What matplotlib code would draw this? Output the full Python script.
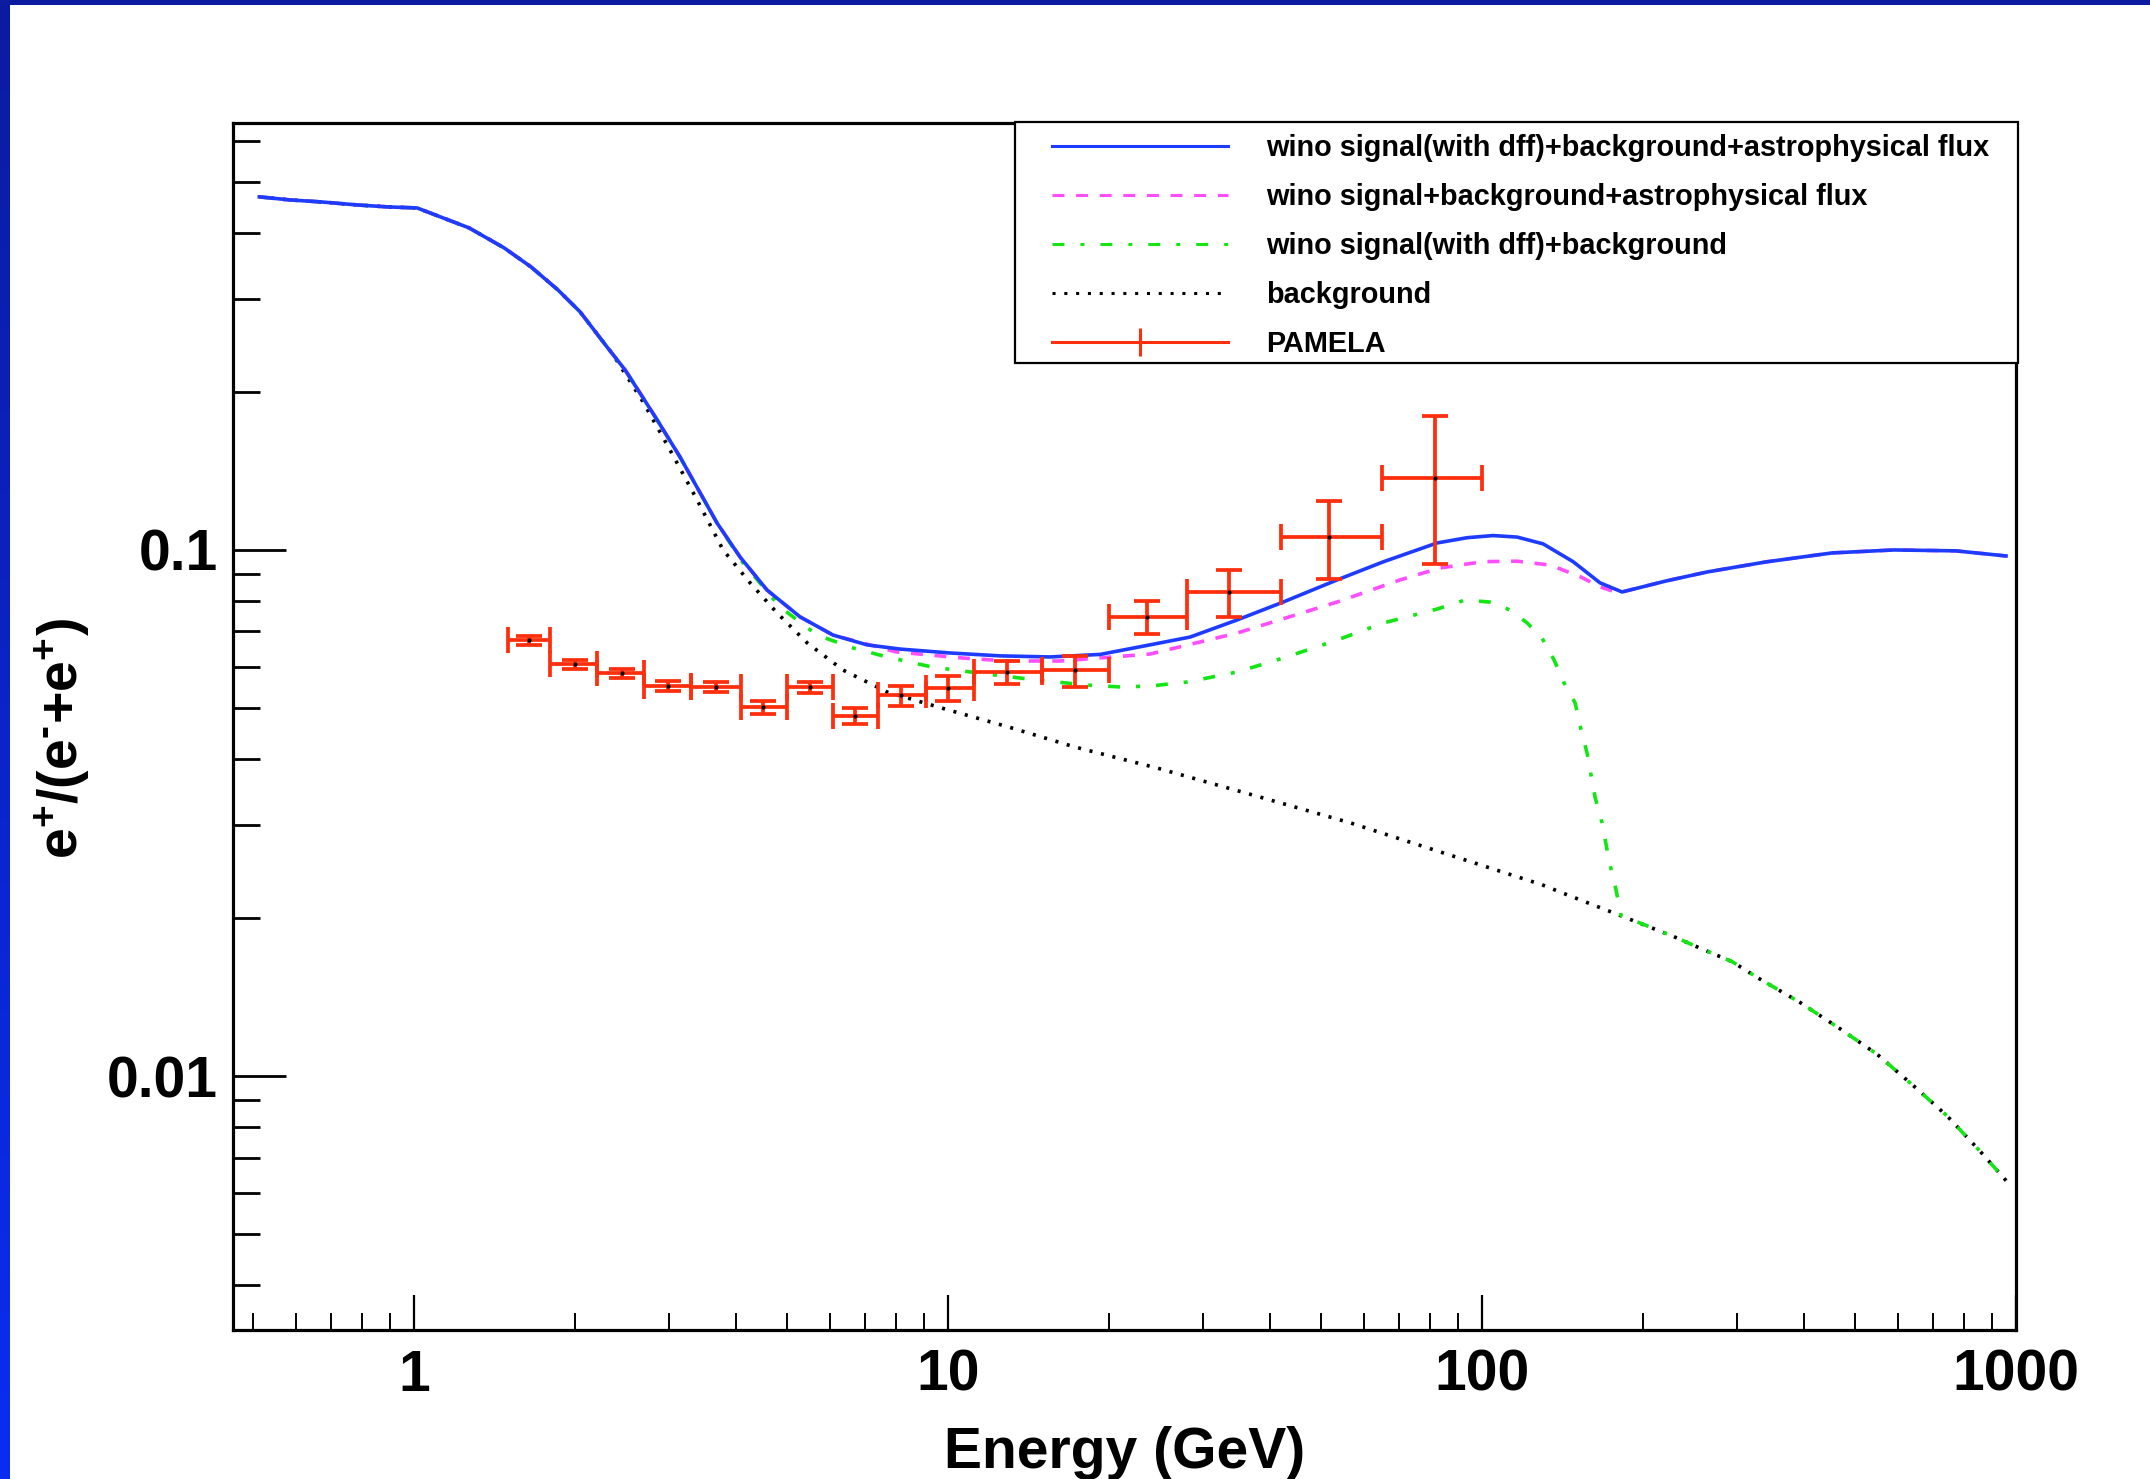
import matplotlib
matplotlib.use("Agg")
from matplotlib import pyplot as plt
from matplotlib.lines import Line2D
from matplotlib.patches import Rectangle
from matplotlib.ticker import FixedLocator, LogLocator, NullFormatter
import numpy as np

plt.rcParams['font.family'] = ['Liberation Sans', 'DejaVu Sans']
plt.rcParams['font.weight'] = 'bold'
plt.rcParams['mathtext.fontset'] = 'custom'
plt.rcParams['mathtext.rm'] = 'Liberation Sans:bold'
plt.rcParams['mathtext.bf'] = 'Liberation Sans:bold'
plt.rcParams['mathtext.it'] = 'Liberation Sans:bold'
plt.rcParams['mathtext.default'] = 'bf'
plt.rcParams['lines.scale_dashes'] = False

# total: wino signal(with dff) + background + astrophysical flux
E_tot = [0.513, 0.586, 0.670, 0.782, 0.894, 1.013, 1.267, 1.474, 1.656, 1.860,
         2.046, 2.298, 2.484, 2.685, 2.852, 3.148, 3.433, 3.693, 4.077, 4.581,
         5.283, 6.089, 7.052, 8.131, 10.09, 12.51, 15.52, 19.27, 23.88, 28.40,
         34.77, 42.41, 53.51, 65.26, 82.36, 93.74, 104.9, 116.3, 130.1, 148.1,
         166.3, 182.9, 221.1, 263.8, 340.3, 452.3, 590.8, 772.0, 957.9]
R_tot = [0.4690, 0.4627, 0.4587, 0.4527, 0.4488, 0.4468, 0.4095, 0.3752, 0.3451, 0.3120,
         0.2835, 0.2431, 0.2199, 0.1945, 0.1767, 0.1502, 0.1284, 0.1125, 0.0970, 0.0839,
         0.0746, 0.0689, 0.0660, 0.0648, 0.0637, 0.0629, 0.0626, 0.0633, 0.0660, 0.0683,
         0.0736, 0.0796, 0.0877, 0.0949, 0.1031, 0.1055, 0.1065, 0.1058, 0.1027, 0.0950,
         0.0866, 0.0832, 0.0873, 0.0908, 0.0949, 0.0987, 0.1000, 0.0996, 0.0974]

# wino signal (no dff) + background + astrophysical flux
E_nodff = [0.513, 0.586, 0.670, 0.782, 0.894, 1.013, 1.267, 1.474, 1.656, 1.860,
           2.046, 2.298, 2.484, 2.685, 2.852, 3.148, 3.433, 3.693, 4.077, 4.581,
           5.283, 6.089, 6.61, 7.99, 10.67, 12.95, 16.21, 23.88, 34.77, 53.51,
           70.22, 83.43, 100.4, 116.3, 134.1, 152.6, 166.3, 175.2, 182.9, 221.1,
           263.8, 340.3, 452.3, 590.8, 772.0, 957.9]
R_nodff = [0.4690, 0.4627, 0.4587, 0.4527, 0.4488, 0.4468, 0.4095, 0.3752, 0.3451, 0.3120,
           0.2835, 0.2431, 0.2199, 0.1945, 0.1767, 0.1502, 0.1284, 0.1125, 0.0970, 0.0839,
           0.0746, 0.0689, 0.0674, 0.0640, 0.0623, 0.0615, 0.0615, 0.0634, 0.0695, 0.0796,
           0.0877, 0.0924, 0.0950, 0.0952, 0.0936, 0.0890, 0.0851, 0.0836, 0.0832, 0.0873,
           0.0908, 0.0949, 0.0987, 0.1000, 0.0996, 0.0974]

# wino signal (with dff) + background
E_sig = [0.513, 0.586, 0.670, 0.782, 0.894, 1.013, 1.267, 1.474, 1.656, 1.860,
         2.046, 2.298, 2.484, 2.685, 2.852, 3.148, 3.433, 3.693, 4.131, 4.846,
         5.685, 6.640, 7.688, 9.334, 11.33, 14.00, 17.97, 20.99, 23.88, 28.03,
         34.77, 42.41, 53.51, 65.26, 82.36, 92.93, 103.5, 112.8, 121.4, 129.5,
         136.4, 142.4, 149.4, 153.3, 157.3, 162.8, 167.8, 172.9, 178.2, 182.1,
         228.8, 256.0, 293.9, 327.3, 394.0, 468.1, 549.3, 641.4, 742.7, 856.0, 961.8]
R_sig = [0.4690, 0.4627, 0.4587, 0.4527, 0.4488, 0.4468, 0.4095, 0.3752, 0.3451, 0.3120,
         0.2835, 0.2431, 0.2199, 0.1945, 0.1767, 0.1502, 0.1284, 0.1125, 0.0945, 0.0779,
         0.0689, 0.0651, 0.0626, 0.0599, 0.0584, 0.0569, 0.0554, 0.0549, 0.0551, 0.0561,
         0.0586, 0.0623, 0.0674, 0.0726, 0.0772, 0.0803, 0.0796, 0.0769, 0.0727, 0.0680,
         0.0618, 0.0559, 0.0512, 0.0455, 0.0411, 0.0339, 0.0303, 0.0257, 0.0226, 0.0202,
         0.0184, 0.0175, 0.0165, 0.0154, 0.0138, 0.0123, 0.0110, 0.0096, 0.0084, 0.0072, 0.0063]

# background only
E_bkg = [0.513, 0.586, 0.670, 0.782, 0.894, 1.013, 1.267, 1.474, 1.656, 1.860,
         2.046, 2.359, 2.685, 3.015, 3.388, 3.790, 4.258, 4.784, 5.445, 6.361,
         7.688, 9.70, 12.95, 17.29, 24.63, 38.40, 56.58, 87.12, 110.9, 129.5,
         141.2, 181.3, 228.8, 256.0, 293.9, 327.3, 394.0, 468.1, 549.3, 641.4,
         742.7, 856.0, 961.8]
R_bkg = [0.4690, 0.4627, 0.4587, 0.4527, 0.4488, 0.4468, 0.4095, 0.3752, 0.3451, 0.3120,
         0.2835, 0.2350, 0.1911, 0.1549, 0.1245, 0.1000, 0.0866, 0.0759, 0.0666, 0.0591,
         0.0537, 0.0501, 0.0461, 0.0422, 0.0385, 0.0339, 0.0303, 0.0263, 0.0243, 0.0231,
         0.0223, 0.0202, 0.0184, 0.0175, 0.0165, 0.0154, 0.0138, 0.0123, 0.0110, 0.0096,
         0.0084, 0.0072, 0.0063]

# PAMELA positron fraction
pam_E = [1.64, 2.0, 2.45, 2.99, 3.68, 4.5, 5.51, 6.69, 8.16, 10.0, 12.9, 17.3, 23.6, 33.6, 51.6, 81.6]
pam_lo = [1.5, 1.8, 2.2, 2.7, 3.3, 4.1, 5.0, 6.1, 7.4, 9.1, 11.2, 15.0, 20.0, 28.0, 42.0, 65.0]
pam_hi = [1.8, 2.2, 2.7, 3.3, 4.1, 5.0, 6.1, 7.4, 9.1, 11.2, 15.0, 20.0, 28.0, 42.0, 65.0, 100.0]
pam_R = [0.0673, 0.0607, 0.0583, 0.0551, 0.0550, 0.0502, 0.0548, 0.0483, 0.0529, 0.0546,
         0.0585, 0.0590, 0.0746, 0.0831, 0.106, 0.137]
pam_err = [0.0014, 0.0012, 0.0011, 0.0012, 0.0012, 0.0014, 0.0014, 0.0017, 0.0023, 0.0029,
           0.0030, 0.0040, 0.0055, 0.0086, 0.018, 0.043]

labels = ["wino signal(with dff)+background+astrophysical flux",
          "wino signal+background+astrophysical flux",
          "wino signal(with dff)+background",
          "background",
          "PAMELA"]

c_blue = '#1e3cff'
c_mag = '#ff4dff'
c_green = '#14e614'
c_red = '#ff2e0c'

W, H = 2150, 1479
fig = plt.figure(figsize=(W / 100, H / 100), dpi=100)
fig.patch.set_facecolor('white')

# slide frame: dark strip on top, gradient strip on the left
fig.patches.append(Rectangle((0, 1 - 5 / H), 1, 5 / H, transform=fig.transFigure,
                             facecolor='#0c1ba0', edgecolor='none', zorder=0))
axb = fig.add_axes([0, 0, 10 / W, 1])
grad = np.linspace(0, 1, 256).reshape(-1, 1)
top_c = np.array([0x0c, 0x1b, 0xa0]) / 255
bot_c = np.array([0x0a, 0x2d, 0xf2]) / 255
img = top_c[None, None, :] * (1 - grad[:, :, None]) + bot_c[None, None, :] * grad[:, :, None]
axb.imshow(img, aspect='auto', extent=[0, 1, 0, 1])
axb.set_axis_off()

ax = fig.add_axes([233 / W, 1 - 1330 / H, (2016 - 233) / W, (1330 - 123) / H])

l_bkg, = ax.plot(E_bkg, R_bkg, color='black', lw=2.6, dashes=(2.2, 6.3), zorder=2)
l_sig, = ax.plot(E_sig, R_sig, color=c_green, lw=2.6, dashes=(8.6, 11.5, 2.9, 11.5), zorder=3)
l_nodff, = ax.plot(E_nodff, R_nodff, color=c_mag, lw=2.6, dashes=(8.6, 8.4), zorder=4)
l_tot, = ax.plot(E_tot, R_tot, color=c_blue, lw=2.6, zorder=5)

pam_E = np.array(pam_E)
xerr = [pam_E - np.array(pam_lo), np.array(pam_hi) - pam_E]
ax.errorbar(pam_E, pam_R, xerr=xerr, yerr=pam_err, fmt='o', color='black', ms=2,
            ecolor=c_red, elinewidth=2.7, capsize=9.5, capthick=2.7, zorder=6)

ax.set_xscale('log')
ax.set_yscale('log')
ax.set_xlim(0.458, 1000)
ax.set_ylim(0.00329, 0.648)

ax.xaxis.set_major_locator(FixedLocator([1, 10, 100, 1000]))
ax.set_xticklabels(['1', '10', '100', '1000'])
ax.xaxis.set_minor_locator(LogLocator(base=10, subs=np.arange(2, 10)))
ax.xaxis.set_minor_formatter(NullFormatter())
ax.yaxis.set_major_locator(FixedLocator([0.01, 0.1]))
ax.set_yticklabels(['0.01', '0.1'])
ax.yaxis.set_minor_locator(LogLocator(base=10, subs=np.arange(2, 10)))
ax.yaxis.set_minor_formatter(NullFormatter())

ax.tick_params(axis='both', which='both', direction='in', top=False, right=False,
               labelsize=41, color='black')
ax.tick_params(axis='x', which='major', length=25, width=1.6, pad=13.5)
ax.tick_params(axis='x', which='minor', length=12.5, width=1.4)
ax.tick_params(axis='y', which='major', length=38, width=2.0, pad=11)
ax.tick_params(axis='y', which='minor', length=19.5, width=2.0)
for lab in ax.get_xticklabels() + ax.get_yticklabels():
    lab.set_fontweight('bold')
for sp in ax.spines.values():
    sp.set_linewidth(2.3)

ax.set_xlabel('Energy (GeV)', fontsize=41, fontweight='bold')
ax.xaxis.set_label_coords(0.5, -0.0796)
ax.set_ylabel(r'$e^{+}/(e^{\text{-}}\text{+}e^{+})$', fontsize=40)
ax.yaxis.set_label_coords(-0.079, 0.49)

# legend box
ax.add_patch(Rectangle(((1015 - 233) / 1783, (1330 - 363) / 1207),
                       (2018 - 1015) / 1783, (363 - 122) / 1207,
                       transform=ax.transAxes, facecolor='white', edgecolor='black',
                       lw=1.6, zorder=7, clip_on=False))
h_pam = Line2D([], [], color=c_red, lw=2.2, marker='|', ms=20, mew=2.2)
h_lines = [Line2D([], [], color=c_blue, lw=2.2),
           Line2D([], [], color=c_mag, lw=2.2, dashes=(8.6, 8.4)),
           Line2D([], [], color=c_green, lw=2.2, dashes=(8.6, 11.5, 2.9, 11.5)),
           Line2D([], [], color='black', lw=2.2, dashes=(2.2, 6.3)),
           h_pam]
leg = ax.legend(h_lines, labels, loc='upper left',
                bbox_to_anchor=(1052 / W, 1 - 134.5 / H), bbox_transform=fig.transFigure,
                frameon=False, prop={'family': 'Liberation Sans', 'weight': 'bold', 'size': 20.8},
                handlelength=6.1, handletextpad=1.3, labelspacing=0.725,
                borderpad=0, borderaxespad=0, numpoints=1)
leg.set_zorder(8)

fig.savefig('out.png', dpi=100)
